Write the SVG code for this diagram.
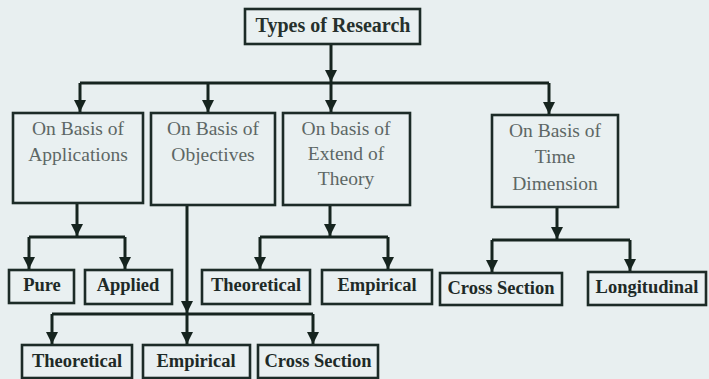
<svg xmlns="http://www.w3.org/2000/svg" width="709" height="379" viewBox="0 0 709 379">
<style>
.bg{fill:#e8eff0}
.box{fill:#e9f0f1;stroke:#1c2b27;stroke-width:2.6}
.ln{fill:none;stroke:#16241f;stroke-width:3}
.ar{fill:none;stroke:#16241f;stroke-width:3;marker-end:url(#ah)}
.t1{font-family:'Liberation Serif',serif;font-size:20px;font-weight:bold;fill:#26302d;text-anchor:middle}
.t2{font-family:'Liberation Serif',serif;font-size:19.5px;fill:#5d6765;text-anchor:middle}
.t3{font-family:'Liberation Serif',serif;font-size:18.5px;font-weight:bold;fill:#1e2a27;text-anchor:middle}
</style>
<defs>
<marker id="ah" markerUnits="userSpaceOnUse" markerWidth="14" markerHeight="14" viewBox="0 0 14 14" refX="13" refY="7" orient="auto">
<path d="M1,1 L13,7 L1,13 Z" fill="#16241f"/>
</marker>
</defs>
<rect class="bg" x="0" y="0" width="709" height="379"/>
<g id="connectors">
<path class="ar" d="M331,44 V82"/>
<path class="ln" d="M80,83 H549"/>
<path class="ar" d="M80,83 V112"/>
<path class="ar" d="M208,83 V112"/>
<path class="ar" d="M331,83 V112"/>
<path class="ar" d="M549,83 V114"/>
<path class="ar" d="M77,203 V236"/>
<path class="ln" d="M29,237 H125"/>
<path class="ar" d="M29,237 V269"/>
<path class="ar" d="M125,237 V269"/>
<path class="ar" d="M330,205 V236"/>
<path class="ln" d="M260,237 H388"/>
<path class="ar" d="M260,237 V269"/>
<path class="ar" d="M388,237 V269"/>
<path class="ar" d="M557,207 V239"/>
<path class="ln" d="M492,240 H630"/>
<path class="ar" d="M492,240 V272"/>
<path class="ar" d="M630,240 V271"/>
<path class="ar" d="M187,205 V313"/>
<path class="ln" d="M52,314 H313"/>
<path class="ar" d="M52,314 V344"/>
<path class="ar" d="M187,314 V344"/>
<path class="ar" d="M313,314 V344"/>
</g>
<g id="types-of-research"><rect class="box" x="245" y="9" width="175" height="35"/><text class="t1" x="333" y="32">Types of Research</text></g>
<g id="basis-applications"><rect class="box" x="13" y="113" width="130" height="90"/><text class="t2" x="78" y="135">On Basis of</text><text class="t2" x="78" y="161">Applications</text></g>
<g id="basis-objectives"><rect class="box" x="151" y="113" width="124" height="92"/><text class="t2" x="213" y="135">On Basis of</text><text class="t2" x="213" y="161">Objectives</text></g>
<g id="basis-theory"><rect class="box" x="283" y="113" width="127" height="92"/><text class="t2" x="346" y="135">On basis of</text><text class="t2" x="346" y="160">Extend of</text><text class="t2" x="346" y="185">Theory</text></g>
<g id="basis-time"><rect class="box" x="492" y="115" width="126" height="92"/><text class="t2" x="555" y="137">On Basis of</text><text class="t2" x="555" y="163">Time</text><text class="t2" x="555" y="190">Dimension</text></g>
<g id="pure"><rect class="box" x="9" y="270" width="65" height="33"/><text class="t3" x="42" y="291">Pure</text></g>
<g id="applied"><rect class="box" x="85" y="270" width="87" height="34"/><text class="t3" x="128" y="291">Applied</text></g>
<g id="theoretical-1"><rect class="box" x="202" y="270" width="108" height="34"/><text class="t3" x="256" y="291">Theoretical</text></g>
<g id="empirical-1"><rect class="box" x="322" y="270" width="110" height="34"/><text class="t3" x="377" y="291">Empirical</text></g>
<g id="cross-section-1"><rect class="box" x="440" y="273" width="122" height="32"/><text class="t3" x="501" y="294">Cross Section</text></g>
<g id="longitudinal"><rect class="box" x="588" y="272" width="118" height="33"/><text class="t3" x="647" y="293">Longitudinal</text></g>
<g id="theoretical-2"><rect class="box" x="22" y="345" width="110" height="33"/><text class="t3" x="77" y="367">Theoretical</text></g>
<g id="empirical-2"><rect class="box" x="143" y="345" width="107" height="33"/><text class="t3" x="196" y="367">Empirical</text></g>
<g id="cross-section-2"><rect class="box" x="258" y="345" width="120" height="33"/><text class="t3" x="318" y="367">Cross Section</text></g>
</svg>
